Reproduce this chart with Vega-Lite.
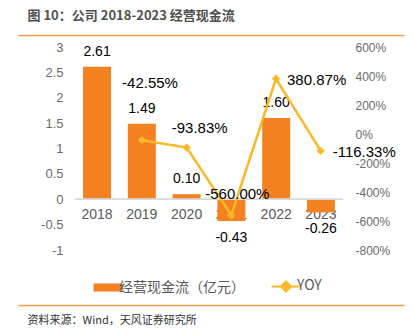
{
  "$schema": "https://vega.github.io/schema/vega-lite/v6.json",
  "width": 386,
  "height": 203,
  "autosize": "none",
  "padding": {"left": 18, "top": 47, "right": 10, "bottom": 81},
  "data": {"values": [
    {"year": "2018", "cf": 2.61, "yoy": null},
    {"year": "2019", "cf": 1.49, "yoy": -0.4255},
    {"year": "2020", "cf": 0.10, "yoy": -0.9383},
    {"year": "2021", "cf": -0.43, "yoy": -5.60},
    {"year": "2022", "cf": 1.60, "yoy": 3.8087},
    {"year": "2023", "cf": -0.26, "yoy": -1.1633}
  ]},
  "layer": [
    {
      "encoding": {
        "x": {"field": "year", "type": "nominal", "sort": null,
          "scale": {"range": [57, 325], "paddingInner": 0.375, "paddingOuter": 0.18},
          "axis": {"orient": "bottom", "offset": -51, "domain": false, "ticks": false, "tickSize": 0, "labelPadding": 8, "labelAngle": 0, "labelFont": "Liberation Sans", "labelFontSize": 14, "labelColor": "#595959", "title": null, "grid": false}},
        "y": {"type": "quantitative",
          "scale": {"domain": [-1, 3], "nice": false, "zero": false},
          "axis": {"orient": "left", "offset": -47, "domain": false, "ticks": false, "tickSize": 0, "labelPadding": 2, "grid": false, "title": null, "values": [-1, -0.5, 0, 0.5, 1, 1.5, 2, 2.5, 3], "format": "~g", "labelFont": "Liberation Sans", "labelFontSize": 13, "labelColor": "#6b6b6b"}}
      },
      "layer": [
        {
          "mark": {"type": "bar"},
          "encoding": {
            "y": {"field": "cf", "type": "quantitative"},
            "color": {"datum": "经营现金流（亿元）", "type": "nominal",
              "scale": {"domain": ["经营现金流（亿元）", "YOY"], "range": ["#F58220", "#FBB829"]},
              "legend": {"orient": "none", "legendX": 83, "legendY": 232, "direction": "horizontal", "title": null,
                "labelFont": "Noto Sans CJK SC", "labelFontSize": 14, "labelColor": "#595959", "symbolSize": 841, "labelOffset": 4, "columnPadding": 22,
                "encode": {"symbols": {"update": {
                  "shape": {"signal": "datum.value === 'YOY' ? 'M-1,0H1M0,-0.35L0.35,0L0,0.35L-0.35,0Z' : 'M-1,-0.28H1V0.28H-1Z'"},
                  "fill": {"signal": "datum.value === 'YOY' ? '#FBB829' : '#F58220'"},
                  "stroke": {"signal": "datum.value === 'YOY' ? '#FBB829' : '#F58220'"},
                  "strokeWidth": {"signal": "datum.value === 'YOY' ? 2 : 0"},
                  "opacity": {"value": 1}
                }}}}}
          }
        },
        {
          "mark": {"type": "rule", "color": "#D9D9D9", "strokeWidth": 1},
          "encoding": {
            "x": {"datum": "2018", "bandPosition": -0.29},
            "x2": {"datum": "2023", "bandPosition": 1.29},
            "y": {"datum": 0}
          }
        },
        {
          "transform": [{"filter": "datum.cf > 0"}],
          "mark": {"type": "text", "baseline": "middle", "dy": -15, "font": "Liberation Sans", "fontSize": 14, "color": "#000000"},
          "encoding": {"y": {"field": "cf", "type": "quantitative"}, "text": {"field": "cf", "type": "quantitative", "format": ".2f"}}
        },
        {
          "transform": [{"filter": "datum.cf < 0"}],
          "mark": {"type": "text", "baseline": "middle", "dy": 17, "font": "Liberation Sans", "fontSize": 14, "color": "#000000"},
          "encoding": {"y": {"field": "cf", "type": "quantitative"}, "text": {"field": "cf", "type": "quantitative", "format": ".2f"}}
        }
      ]
    },
    {
      "transform": [{"filter": "datum.yoy != null"}],
      "encoding": {
        "x": {"field": "year", "type": "nominal", "sort": ["2018", "2019", "2020", "2021", "2022", "2023"],
          "scale": {"domain": ["2018", "2019", "2020", "2021", "2022", "2023"], "range": [57, 325], "paddingInner": 0.375, "paddingOuter": 0.18}, "axis": null},
        "y": {"field": "yoy", "type": "quantitative",
          "scale": {"domain": [-8, 6], "nice": false, "zero": false},
          "axis": {"orient": "right", "offset": -51, "domain": false, "ticks": false, "tickSize": 0, "labelPadding": 2, "grid": false, "title": null, "values": [-8, -6, -4, -2, 0, 2, 4, 6], "format": ".0%", "labelFont": "Liberation Sans", "labelFontSize": 12, "labelColor": "#6b6b6b"}}
      },
      "layer": [
        {"mark": {"type": "line", "strokeWidth": 2.5, "color": "#FBB829"}, "encoding": {"color": {"datum": "YOY", "type": "nominal"}}},
        {"mark": {"type": "point", "shape": "diamond", "filled": true, "size": 70, "opacity": 1, "color": "#FBB829"}},
        {"transform": [{"filter": "datum.year == '2019'"}],
         "mark": {"type": "text", "baseline": "middle", "align": "center", "dx": 8, "dy": -57, "font": "Liberation Sans", "fontSize": 15, "color": "#000000"},
         "encoding": {"text": {"field": "yoy", "type": "quantitative", "format": ".2%"}}},
        {"transform": [{"filter": "datum.year == '2020'"}],
         "mark": {"type": "text", "baseline": "middle", "align": "center", "dx": 13, "dy": -20, "font": "Liberation Sans", "fontSize": 15, "color": "#000000"},
         "encoding": {"text": {"field": "yoy", "type": "quantitative", "format": ".2%"}}},
        {"transform": [{"filter": "datum.year == '2021'"}],
         "mark": {"type": "text", "baseline": "middle", "align": "center", "dx": 6, "dy": -21, "font": "Liberation Sans", "fontSize": 15, "color": "#000000"},
         "encoding": {"text": {"field": "yoy", "type": "quantitative", "format": ".2%"}}},
        {"transform": [{"filter": "datum.year == '2022'"}],
         "mark": {"type": "text", "baseline": "middle", "align": "left", "dx": 11, "dy": 1, "font": "Liberation Sans", "fontSize": 15, "color": "#000000"},
         "encoding": {"text": {"field": "yoy", "type": "quantitative", "format": ".2%"}}},
        {"transform": [{"filter": "datum.year == '2023'"}],
         "mark": {"type": "text", "baseline": "middle", "align": "left", "dx": 12, "dy": 1, "font": "Liberation Sans", "fontSize": 15, "color": "#000000"},
         "encoding": {"text": {"field": "yoy", "type": "quantitative", "format": ".2%"}}}
      ]
    },
    {
      "mark": {"type": "text"},
      "encoding": {
        "x": {"field": "year", "type": "nominal", "sort": null,
          "axis": {"orient": "top", "offset": 12, "domain": true, "domainColor": "#F29B50", "domainWidth": 1.5, "labels": false, "ticks": false, "grid": false,
            "title": "图 10：公司 2018-2023 经营现金流", "titleX": 9, "titleY": -20, "titleAlign": "left", "titleAnchor": "start", "titleBaseline": "middle", "titleAngle": 0,
            "titleFont": "Noto Sans CJK SC", "titleFontSize": 13, "titleFontWeight": "bold", "titleColor": "#505050"}},
        "text": {"value": ""}
      }
    },
    {
      "mark": {"type": "text"},
      "encoding": {
        "x": {"field": "year", "type": "nominal", "sort": null,
          "axis": {"orient": "bottom", "offset": 55, "domain": true, "domainColor": "#F29B50", "domainWidth": 1.5, "labels": false, "ticks": false, "grid": false,
            "title": "资料来源：Wind，天风证券研究所", "titleX": 9, "titleY": 15, "titleAlign": "left", "titleAnchor": "start", "titleBaseline": "middle", "titleAngle": 0,
            "titleFont": "Noto Sans CJK SC", "titleFontSize": 11, "titleFontWeight": "normal", "titleColor": "#333333"}},
        "text": {"value": ""}
      }
    }
  ],
  "resolve": {"scale": {"y": "independent", "x": "independent"}, "axis": {"x": "independent"}},
  "config": {
    "view": {"stroke": null},
    "locale": {"number": {"decimal": ".", "thousands": ",", "grouping": [3], "currency": ["$", ""], "minus": "-"}}
  }
}
